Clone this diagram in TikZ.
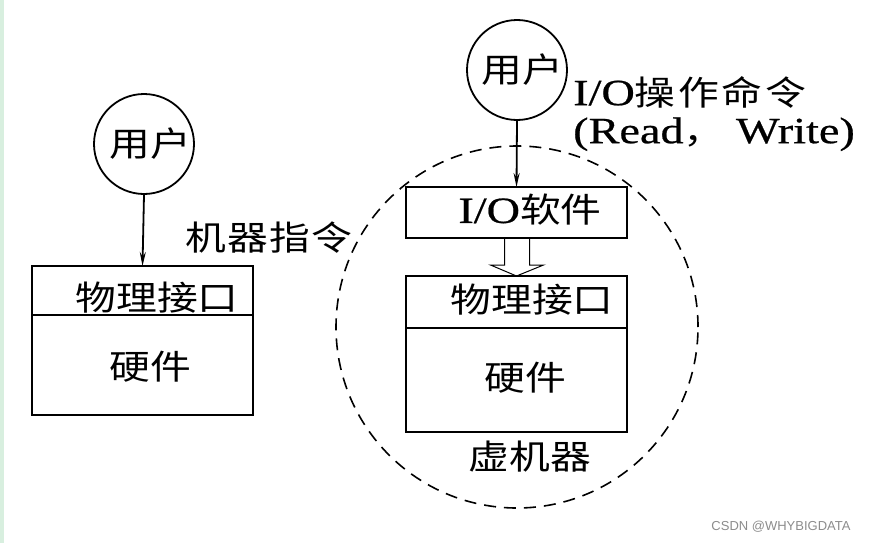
\documentclass[tikz,border=0pt]{standalone}
\usepackage{fontspec}
\setmainfont{Liberation Serif}
\newfontfamily\cjk[FakeStretch=1.2]{Noto Sans CJK SC}
\newfontfamily\lat[FakeStretch=1.25,FakeBold=0.6]{Liberation Serif}
\newfontfamily\wm{Liberation Sans}
\newcommand\latx{\lat\fontsize{37}{38}\selectfont}
\usetikzlibrary{arrows.meta,calc}
\tikzset{
  ucirc/.style={circle,draw,line width=1.8pt,minimum size=100pt,inner sep=0pt,font=\fontsize{34}{38}\selectfont\cjk},
  boxn/.style={draw,line width=2pt,inner sep=0pt,outer sep=0pt},
  lbl/.style={inner sep=0pt,font=\fontsize{34}{38}\selectfont\cjk},
  conn/.style={line width=1.8pt,-{Stealth[length=14pt,width=6pt]}},
}
\begin{document}
\begin{tikzpicture}[x=1pt,y=-1pt]
\useasboundingbox (0,0) rectangle (874,543);
\fill[fill={rgb,255:red,216;green,239;blue,223}] (0,0) rectangle (4,543);
% left side
\node[ucirc] (u1) at (144,144) {\hspace*{12pt}用户};
\node[boxn,minimum width=221pt,minimum height=49pt] (pi1) at (142.5,290.5) {};
\node[boxn,minimum width=221pt,minimum height=100pt,anchor=north] (hw1) at (pi1.south) {};
\node[lbl] (t_pi1) at (157,298) {物理接口};
\node[lbl] (t_hw1) at (150,367) {硬件};
\draw[conn] (u1.south) -- (pi1.north);
\node[lbl] (t_mi) at (269,238) {\addfontfeature{LetterSpace=4}机器指令};
% right side
\node[circle,draw,dash pattern=on 12pt off 8pt,line width=1.6pt,minimum size=362pt,inner sep=0pt] (vm) at (517,327) {};
\node[ucirc] (u2) at (517,70) {\hspace*{10pt}用户};
\node[boxn,minimum width=221pt,minimum height=51pt,fill=white] (io) at (516.5,212.5) {};
\node[lbl] (t_io) at (530,210) {{\latx I/O}软件};
\node[boxn,minimum width=221pt,minimum height=52pt,fill=white] (pi2) at (516.5,302) {};
\node[boxn,minimum width=221pt,minimum height=104pt,anchor=north] (hw2) at (pi2.south) {};
\node[lbl] (t_pi2) at (532,300) {物理接口};
\node[lbl] (t_hw2) at (525,378) {硬件};
\node[lbl] (t_vm) at (530,457) {虚机器};
\draw[conn] (u2.south) -- (io.north);
\coordinate (ha) at (io.south);
\draw[line width=1pt,line join=miter]
  ($(ha)+(-12,0)$) -- ($(ha)+(-12,27)$) -- ($(ha)+(-26,27)$) -- (pi2.north)
  -- ($(ha)+(27,27)$) -- ($(ha)+(13,27)$) -- ($(ha)+(13,0)$);
\node[lbl,anchor=north west,align=left,font=\fontsize{34}{38}\selectfont\cjk] (t_cmd) at (573,76)
  {{\latx I/O}{\addfontfeature{LetterSpace=8}操作命令}\\{\latx (Read}，{\latx\ Write)}};
% watermark
\node[inner sep=0pt,text=black!45,font=\fontsize{13}{15}\selectfont\wm] (wmk) at (781,527) {CSDN @WHYBIGDATA};
\end{tikzpicture}
\end{document}
